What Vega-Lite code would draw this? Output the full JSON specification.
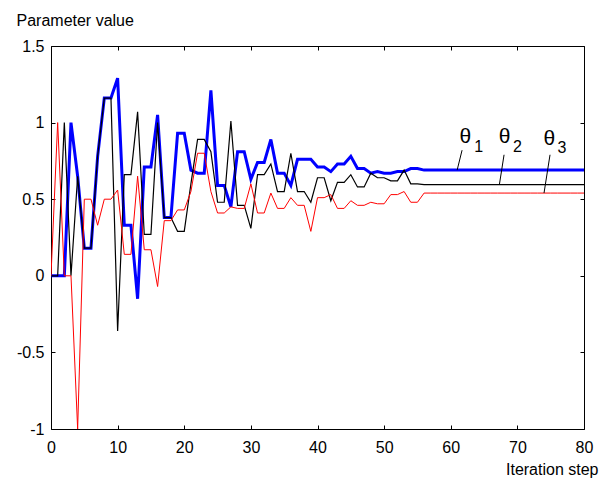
{
  "$schema": "https://vega.github.io/schema/vega-lite/v6.json",
  "width": 533,
  "height": 383,
  "autosize": "none",
  "padding": {"left": 51, "top": 46, "right": 29, "bottom": 50},
  "background": "white",
  "config": {
    "view": {"stroke": "black", "strokeWidth": 1},
    "font": "Liberation Sans",
    "axis": {
      "domain": false,
      "grid": false,
      "ticks": true,
      "tickSize": -4,
      "tickColor": "black",
      "labelFont": "Liberation Sans",
      "labelFontSize": 16,
      "labelColor": "black",
      "titleFont": "Liberation Sans",
      "titleFontSize": 16,
      "titleFontWeight": "normal",
      "titleColor": "black"
    }
  },
  "datasets": {
    "series": [
      {"i": 0, "t1": 0, "t2": 0, "t3": 0},
      {"i": 1, "t1": 0, "t2": 0, "t3": 1.0},
      {"i": 2, "t1": 0, "t2": 1.0, "t3": 0},
      {"i": 3, "t1": 1.0, "t2": 0, "t3": 0},
      {"i": 4, "t1": 0.65, "t2": 0.65, "t3": -1.0},
      {"i": 5, "t1": 0.18, "t2": 0.18, "t3": 0.5},
      {"i": 6, "t1": 0.18, "t2": 0.18, "t3": 0.5},
      {"i": 7, "t1": 0.78, "t2": 0.78, "t3": 0.33},
      {"i": 8, "t1": 1.16, "t2": 1.16, "t3": 0.5},
      {"i": 9, "t1": 1.16, "t2": 1.16, "t3": 0.5},
      {"i": 10, "t1": 1.29, "t2": -0.36, "t3": 0.56},
      {"i": 11, "t1": 0.33, "t2": 0.66, "t3": 0.14},
      {"i": 12, "t1": 0.33, "t2": 0.66, "t3": 0.14},
      {"i": 13, "t1": -0.15, "t2": 1.07, "t3": 0.65},
      {"i": 14, "t1": 0.71, "t2": 0.27, "t3": 0.17},
      {"i": 15, "t1": 0.71, "t2": 0.27, "t3": 0.17},
      {"i": 16, "t1": 1.05, "t2": 1.0, "t3": -0.07},
      {"i": 17, "t1": 0.38, "t2": 0.38, "t3": 0.36},
      {"i": 18, "t1": 0.38, "t2": 0.38, "t3": 0.36},
      {"i": 19, "t1": 0.93, "t2": 0.29, "t3": 0.43},
      {"i": 20, "t1": 0.93, "t2": 0.29, "t3": 0.43},
      {"i": 21, "t1": 0.69, "t2": 0.6, "t3": 0.55},
      {"i": 22, "t1": 0.67, "t2": 0.89, "t3": 0.8},
      {"i": 23, "t1": 0.67, "t2": 0.89, "t3": 0.8},
      {"i": 24, "t1": 1.21, "t2": 0.81, "t3": 0.55},
      {"i": 25, "t1": 0.59, "t2": 0.48, "t3": 0.41},
      {"i": 26, "t1": 0.59, "t2": 0.48, "t3": 0.41},
      {"i": 27, "t1": 0.45, "t2": 1.01, "t3": 0.45},
      {"i": 28, "t1": 0.81, "t2": 0.46, "t3": 0.44},
      {"i": 29, "t1": 0.81, "t2": 0.46, "t3": 0.44},
      {"i": 30, "t1": 0.63, "t2": 0.31, "t3": 0.6},
      {"i": 31, "t1": 0.74, "t2": 0.66, "t3": 0.41},
      {"i": 32, "t1": 0.74, "t2": 0.66, "t3": 0.41},
      {"i": 33, "t1": 0.89, "t2": 0.73, "t3": 0.54},
      {"i": 34, "t1": 0.67, "t2": 0.55, "t3": 0.44},
      {"i": 35, "t1": 0.67, "t2": 0.55, "t3": 0.44},
      {"i": 36, "t1": 0.59, "t2": 0.8, "t3": 0.51},
      {"i": 37, "t1": 0.76, "t2": 0.55, "t3": 0.46},
      {"i": 38, "t1": 0.76, "t2": 0.55, "t3": 0.46},
      {"i": 39, "t1": 0.76, "t2": 0.48, "t3": 0.29},
      {"i": 40, "t1": 0.71, "t2": 0.64, "t3": 0.51},
      {"i": 41, "t1": 0.71, "t2": 0.64, "t3": 0.51},
      {"i": 42, "t1": 0.68, "t2": 0.49, "t3": 0.53},
      {"i": 43, "t1": 0.73, "t2": 0.61, "t3": 0.44},
      {"i": 44, "t1": 0.73, "t2": 0.61, "t3": 0.44},
      {"i": 45, "t1": 0.78, "t2": 0.66, "t3": 0.49},
      {"i": 46, "t1": 0.7, "t2": 0.58, "t3": 0.46},
      {"i": 47, "t1": 0.7, "t2": 0.58, "t3": 0.46},
      {"i": 48, "t1": 0.67, "t2": 0.67, "t3": 0.48},
      {"i": 49, "t1": 0.68, "t2": 0.64, "t3": 0.47},
      {"i": 50, "t1": 0.67, "t2": 0.64, "t3": 0.47},
      {"i": 51, "t1": 0.67, "t2": 0.62, "t3": 0.53},
      {"i": 52, "t1": 0.68, "t2": 0.62, "t3": 0.53},
      {"i": 53, "t1": 0.68, "t2": 0.69, "t3": 0.55},
      {"i": 54, "t1": 0.7, "t2": 0.6, "t3": 0.48},
      {"i": 55, "t1": 0.7, "t2": 0.6, "t3": 0.48},
      {"i": 56, "t1": 0.69, "t2": 0.595, "t3": 0.54},
      {"i": 57, "t1": 0.69, "t2": 0.595, "t3": 0.54},
      {"i": 58, "t1": 0.69, "t2": 0.595, "t3": 0.54},
      {"i": 59, "t1": 0.69, "t2": 0.595, "t3": 0.54},
      {"i": 60, "t1": 0.69, "t2": 0.595, "t3": 0.54},
      {"i": 61, "t1": 0.69, "t2": 0.595, "t3": 0.54},
      {"i": 62, "t1": 0.69, "t2": 0.595, "t3": 0.54},
      {"i": 63, "t1": 0.69, "t2": 0.595, "t3": 0.54},
      {"i": 64, "t1": 0.69, "t2": 0.595, "t3": 0.54},
      {"i": 65, "t1": 0.69, "t2": 0.595, "t3": 0.54},
      {"i": 66, "t1": 0.69, "t2": 0.595, "t3": 0.54},
      {"i": 67, "t1": 0.69, "t2": 0.595, "t3": 0.54},
      {"i": 68, "t1": 0.69, "t2": 0.595, "t3": 0.54},
      {"i": 69, "t1": 0.69, "t2": 0.595, "t3": 0.54},
      {"i": 70, "t1": 0.69, "t2": 0.595, "t3": 0.54},
      {"i": 71, "t1": 0.69, "t2": 0.595, "t3": 0.54},
      {"i": 72, "t1": 0.69, "t2": 0.595, "t3": 0.54},
      {"i": 73, "t1": 0.69, "t2": 0.595, "t3": 0.54},
      {"i": 74, "t1": 0.69, "t2": 0.595, "t3": 0.54},
      {"i": 75, "t1": 0.69, "t2": 0.595, "t3": 0.54},
      {"i": 76, "t1": 0.69, "t2": 0.595, "t3": 0.54},
      {"i": 77, "t1": 0.69, "t2": 0.595, "t3": 0.54},
      {"i": 78, "t1": 0.69, "t2": 0.595, "t3": 0.54},
      {"i": 79, "t1": 0.69, "t2": 0.595, "t3": 0.54},
      {"i": 80, "t1": 0.69, "t2": 0.595, "t3": 0.54}
    ],
    "leaders": [
      {"x": 60.96, "y": 0.69, "x2": 61.7, "y2": 0.82},
      {"x": 67.3, "y": 0.595, "x2": 68.0, "y2": 0.79},
      {"x": 74.0, "y": 0.54, "x2": 74.9, "y2": 0.79}
    ],
    "thetas": [
      {"x": 62.2, "y": 0.907, "t": "θ"},
      {"x": 68.1, "y": 0.907, "t": "θ"},
      {"x": 74.8, "y": 0.894, "t": "θ"}
    ],
    "subs": [
      {"x": 64.2, "y": 0.842, "t": "1"},
      {"x": 70.0, "y": 0.842, "t": "2"},
      {"x": 76.7, "y": 0.836, "t": "3"}
    ]
  },
  "resolve": {"axis": {"x": "independent", "y": "independent"}},
  "layer": [
    {
      "mark": {"type": "rule", "color": "black", "strokeWidth": 1, "strokeDash": [2, 5]},
      "encoding": {"y": {"datum": 0, "type": "quantitative", "axis": null}}
    },
    {
      "data": {"name": "series"},
      "mark": {"type": "line", "color": "#0000ff", "strokeWidth": 3, "clip": true},
      "encoding": {
        "x": {
          "field": "i", "type": "quantitative",
          "scale": {"domain": [0, 80], "nice": false, "zero": false},
          "axis": {
            "orient": "bottom",
            "values": [0, 10, 20, 30, 40, 50, 60, 70, 80],
            "labelPadding": 14,
            "labelFlush": false,
            "title": "Iteration step",
            "titleX": 547,
            "titleY": 45,
            "titleAlign": "right",
            "titleBaseline": "alphabetic"
          }
        },
        "y": {
          "field": "t1", "type": "quantitative",
          "scale": {"domain": [-1, 1.5], "nice": false, "zero": false},
          "axis": {
            "orient": "left",
            "values": [-1, -0.5, 0, 0.5, 1, 1.5],
            "labelExpr": "'' + datum.value",
            "labelPadding": 11,
            "labelFlush": false,
            "title": "Parameter value",
            "titleAngle": 0,
            "titleX": -35,
            "titleY": -21,
            "titleAlign": "left",
            "titleBaseline": "alphabetic"
          }
        }
      }
    },
    {
      "data": {"name": "series"},
      "mark": {"type": "line", "color": "black", "strokeWidth": 1.2, "clip": true},
      "encoding": {
        "x": {
          "field": "i", "type": "quantitative",
          "axis": {"orient": "top", "values": [0, 10, 20, 30, 40, 50, 60, 70, 80], "labels": false, "title": null}
        },
        "y": {
          "field": "t2", "type": "quantitative",
          "axis": {"orient": "right", "values": [-1, -0.5, 0, 0.5, 1, 1.5], "labels": false, "title": null}
        }
      }
    },
    {
      "data": {"name": "series"},
      "mark": {"type": "line", "color": "#ff0000", "strokeWidth": 1, "clip": true},
      "encoding": {
        "x": {"field": "i", "type": "quantitative", "axis": null},
        "y": {"field": "t3", "type": "quantitative", "axis": null}
      }
    },
    {
      "data": {"name": "leaders"},
      "mark": {"type": "rule", "color": "black", "strokeWidth": 1},
      "encoding": {
        "x": {"field": "x", "type": "quantitative", "axis": null},
        "y": {"field": "y", "type": "quantitative", "axis": null},
        "x2": {"field": "x2"},
        "y2": {"field": "y2"}
      }
    },
    {
      "data": {"name": "thetas"},
      "mark": {"type": "text", "fontSize": 21, "font": "Liberation Sans", "align": "center", "baseline": "middle", "color": "black"},
      "encoding": {
        "x": {"field": "x", "type": "quantitative", "axis": null},
        "y": {"field": "y", "type": "quantitative", "axis": null},
        "text": {"field": "t"}
      }
    },
    {
      "data": {"name": "subs"},
      "mark": {"type": "text", "fontSize": 16, "font": "Liberation Sans", "align": "center", "baseline": "middle", "color": "black"},
      "encoding": {
        "x": {"field": "x", "type": "quantitative", "axis": null},
        "y": {"field": "y", "type": "quantitative", "axis": null},
        "text": {"field": "t"}
      }
    }
  ]
}
